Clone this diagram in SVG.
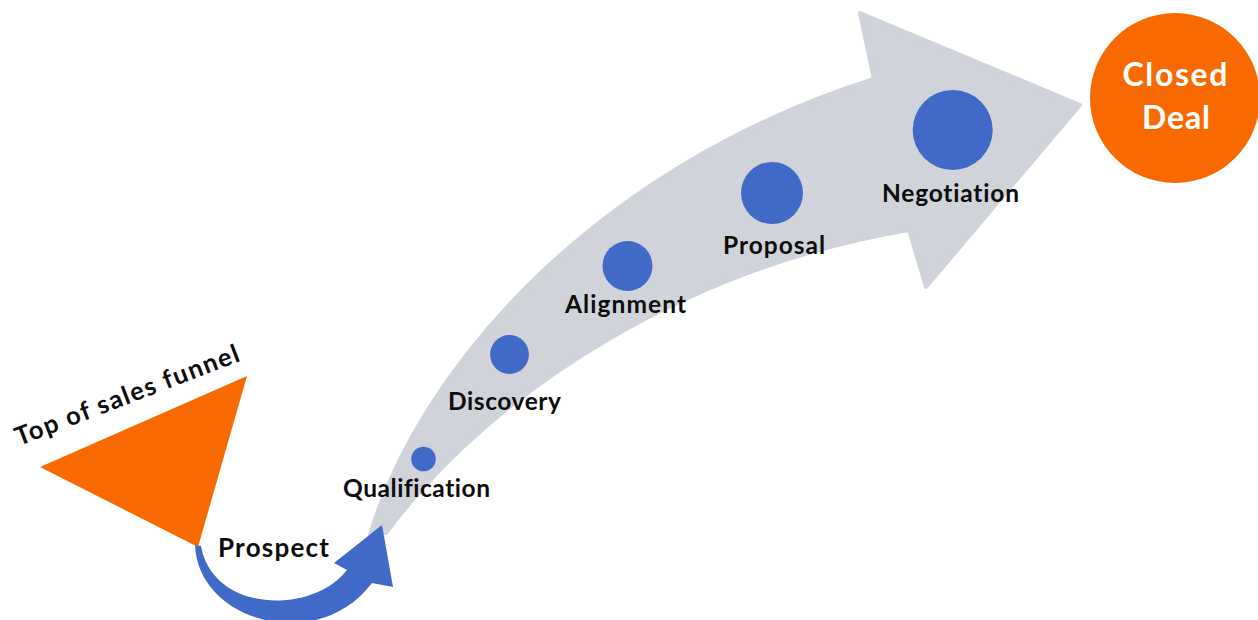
<svg xmlns="http://www.w3.org/2000/svg" width="1258" height="620" viewBox="0 0 1258 620">
  <style>
    .lbl { font-family: Lato, "Open Sans", "Liberation Sans", sans-serif; font-weight: 700; fill: #0D0D0D; font-variant-ligatures: none; }
    .stage { fill: #4169C7; }
    .orange { fill: #F86A00; }
  </style>
  <rect width="1258" height="620" fill="#FFFFFF"/>

  <!-- big grey curved arrow carrying the stages -->
  <g id="pipeline-arrow">
    <path d="M370,535 C418,372 592,168 874,79 L860,13 L1080,105 L926,287 L909,230 C700,265 500,380 386,533 Z"
          fill="#D0D3DA" stroke="#D0D3DA" stroke-width="4" stroke-linejoin="round"/>
  </g>

  <!-- funnel triangle and its label -->
  <g id="funnel">
    <polygon class="orange" points="40,467 247,376 198,547"/>
    <text class="lbl" x="19" y="446" font-size="25.5" textLength="238" lengthAdjust="spacing" transform="rotate(-21 19 446)">Top of sales funnel</text>
  </g>

  <!-- blue curved arrow from the funnel into the pipeline -->
  <g id="connectors">
    <path class="stage" d="M195,545 C198,622 318,655 372,583 L393,587 L382,525 L334,563 L347,570 C312,615 213,613 201,546 Z"/>
  </g>

  <g id="prospect">
    <text class="lbl" x="218" y="557" font-size="26" textLength="111" lengthAdjust="spacing">Prospect</text>
  </g>

  <g id="qualification">
    <circle class="stage" cx="423.5" cy="459" r="12.3"/>
    <text class="lbl" x="343" y="497" font-size="24.5" textLength="147" lengthAdjust="spacing">Qualification</text>
  </g>

  <g id="discovery">
    <circle class="stage" cx="509.5" cy="354.5" r="19.4"/>
    <text class="lbl" x="448" y="410" font-size="24.5" textLength="113" lengthAdjust="spacing">Discovery</text>
  </g>

  <g id="alignment">
    <circle class="stage" cx="627.5" cy="266" r="25"/>
    <text class="lbl" x="565" y="313" font-size="24.5" textLength="121" lengthAdjust="spacing">Alignment</text>
  </g>

  <g id="proposal">
    <circle class="stage" cx="772" cy="193" r="31"/>
    <text class="lbl" x="723" y="254" font-size="24.5" textLength="102" lengthAdjust="spacing">Proposal</text>
  </g>

  <g id="negotiation">
    <circle class="stage" cx="952.7" cy="130" r="40"/>
    <text class="lbl" x="882" y="202" font-size="24.5" textLength="137" lengthAdjust="spacing">Negotiation</text>
  </g>

  <g id="closed-deal">
    <circle class="orange" cx="1175" cy="98" r="85"/>
    <text class="lbl" x="1175" y="86" font-size="32" text-anchor="middle" style="fill:#FFFFFF" textLength="105" lengthAdjust="spacing">Closed</text>
    <text class="lbl" x="1176" y="129" font-size="32" text-anchor="middle" style="fill:#FFFFFF" textLength="68" lengthAdjust="spacing">Deal</text>
  </g>
</svg>
